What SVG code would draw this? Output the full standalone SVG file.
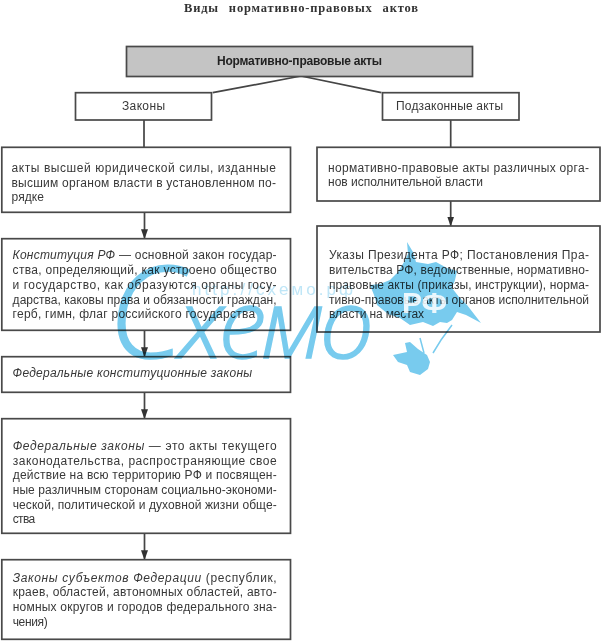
<svg xmlns="http://www.w3.org/2000/svg" width="601" height="641" viewBox="0 0 601 641">
<style>
.bx{fill:#fff;stroke:#484848;stroke-width:1.7}
.t{font-family:"Liberation Sans",Arial,sans-serif;font-size:12px;fill:#383838}
.i{font-style:italic}
.c{stroke:#444;stroke-width:1.7;fill:none}
.a{marker-end:url(#ah)}
.wm{mix-blend-mode:multiply}
</style>
<defs>
<marker id="ah" markerUnits="userSpaceOnUse" markerWidth="10" markerHeight="7" refX="9.500" refY="3.500" orient="auto" viewBox="0 0 10 7"><path d="M0 0L10 3.500L0 7z" fill="#333"/></marker>
<filter id="soft" x="0" y="0" width="100%" height="100%"><feGaussianBlur stdDeviation="0.35"/></filter>
</defs>
<g filter="url(#soft)">
<rect width="601" height="641" fill="#fff"/>
<text x="184" y="11.500" textLength="234" font-family="'Liberation Serif',serif" font-weight="bold" font-size="12.500" word-spacing="6" fill="#333">Виды нормативно-правовых актов</text>
<g id="connectors">
<path class="c" d="M301 76L212.700 92.700M301 76L381.400 92.700M144 120V147.300M450.700 120V147.300"/>
<path class="c a" d="M144.500 212.300V238.700"/>
<path class="c a" d="M450.700 201V226"/>
<path class="c a" d="M144.500 330.300V356.700"/>
<path class="c a" d="M144.500 392.300V418.700"/>
<path class="c a" d="M144.500 533.300V559.700"/>
</g>
<g id="n-root"><rect class="bx" x="126.500" y="46.500" width="346" height="30" style="fill:#c4c4c4"/><text class="t" x="217" y="65" textLength="165" font-weight="bold" style="fill:#222">Нормативно-правовые акты</text></g>
<g id="n-laws"><rect class="bx" x="75.500" y="92.700" width="136" height="27.300"/><text class="t" x="122" y="110" textLength="43">Законы</text></g>
<g id="n-sublaws"><rect class="bx" x="382.500" y="92.700" width="136.500" height="27.300"/><text class="t" x="396" y="110" textLength="107">Подзаконные акты</text></g>
<g id="n-laws-def"><rect class="bx" x="1.800" y="147.300" width="288.700" height="65"/>
<text class="t" x="11.500" y="172.300" textLength="264.500">акты высшей юридической силы, изданные</text>
<text class="t" x="11.500" y="187" textLength="264.500">высшим органом власти в установленном по-</text>
<text class="t" x="11.500" y="201" textLength="32.500">рядке</text></g>
<g id="n-sublaws-def"><rect class="bx" x="317" y="147.300" width="283" height="53.700"/>
<text class="t" x="328" y="171.700" textLength="261">нормативно-правовые акты различных орга-</text>
<text class="t" x="328" y="186" textLength="155">нов исполнительной власти</text></g>
<g id="n-constitution"><rect class="bx" x="1.800" y="238.700" width="288.700" height="91.600"/>
<text class="t" x="12.600" y="259.300" textLength="264"><tspan class="i">Конституция РФ</tspan> — основной закон государ-</text>
<text class="t" x="12.600" y="274.300" textLength="264">ства, определяющий, как устроено общество</text>
<text class="t" x="12.600" y="289" textLength="264">и государство, как образуются органы госу-</text>
<text class="t" x="12.600" y="303.700" textLength="264">дарства, каковы права и обязанности граждан,</text>
<text class="t" x="12.600" y="318.300" textLength="242.500">герб, гимн, флаг российского государства</text></g>
<g id="n-decrees"><rect class="bx" x="317" y="226" width="283" height="106"/>
<text class="t" x="329" y="259.300" textLength="260">Указы Президента РФ; Постановления Пра-</text>
<text class="t" x="329" y="274.300" textLength="260">вительства РФ, ведомственные, нормативно-</text>
<text class="t" x="329" y="289" textLength="260">правовые акты (приказы, инструкции), норма-</text>
<text class="t" x="329" y="303.700" textLength="260">тивно-правовые акты органов исполнительной</text>
<text class="t" x="329" y="318.300" textLength="95">власти на местах</text></g>
<g id="n-fkz"><rect class="bx" x="1.800" y="356.700" width="288.700" height="35.600"/>
<text class="t i" x="12.600" y="376.700" textLength="239.500">Федеральные конституционные законы</text></g>
<g id="n-fz"><rect class="bx" x="1.800" y="418.700" width="288.700" height="114.600"/>
<text class="t" x="12.700" y="450" textLength="264"><tspan class="i">Федеральные законы</tspan> — это акты текущего</text>
<text class="t" x="12.700" y="464.700" textLength="264">законодательства, распространяющие свое</text>
<text class="t" x="12.700" y="479.300" textLength="264">действие на всю территорию РФ и посвящен-</text>
<text class="t" x="12.700" y="494" textLength="264">ные различным сторонам социально-экономи-</text>
<text class="t" x="12.700" y="508.700" textLength="264">ческой, политической и духовной жизни обще-</text>
<text class="t" x="12.700" y="523.300" textLength="22.500">ства</text></g>
<g id="n-subjects"><rect class="bx" x="1.800" y="559.700" width="288.700" height="79.600"/>
<text class="t" x="12.700" y="581.700" textLength="264"><tspan class="i">Законы субъектов Федерации</tspan> (республик,</text>
<text class="t" x="12.700" y="596.300" textLength="264">краев, областей, автономных областей, авто-</text>
<text class="t" x="12.700" y="611" textLength="264">номных округов и городов федерального зна-</text>
<text class="t" x="12.700" y="625.700" textLength="35">чения)</text></g>
<g id="watermark" class="wm">
<text x="192" y="295" textLength="161" font-family="'Liberation Sans',sans-serif" font-size="17" fill="#bfe6f7">http://схемо.рф</text>
<text x="108" y="358" textLength="266" font-family="'Open Sans','Liberation Sans',sans-serif" font-style="italic" font-weight="300" fill="#78cbee" stroke="#78cbee" stroke-width="1.500"><tspan font-size="128">С</tspan><tspan font-size="96">хемо</tspan></text>
<path fill="#78cbee" d="M407 242L413 252L416 262L428 264L436 262L447 268L457 271L455 280L452 288L459 297L467 305L481 323L466 315L457 312L452 320L447 323L440 322L433 326L423 322L410 325L400 318L388 314L377 305L374 295L370 285L380 284L390 280L398 272L404 262L408 254z"/>
<path fill="#78cbee" d="M393 355L407 352L405 343L410 342L418 349L427 355L430 362L428 369L420 375L410 372L407 365L398 362z"/>
<path fill="none" stroke="#78cbee" stroke-width="1.500" d="M433 353L441 340L452 325M424 353L420 338"/>
</g>
<text x="402" y="313" font-family="'Liberation Sans',sans-serif" font-weight="bold" font-size="30" fill="#fff" fill-opacity=".85" textLength="45">РФ</text>
</g>
</svg>
